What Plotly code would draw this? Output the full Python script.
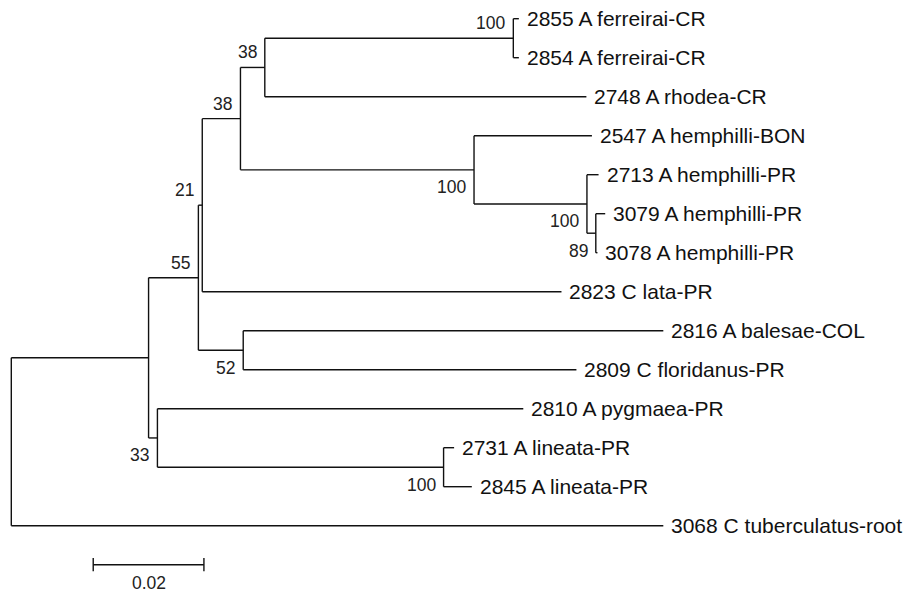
import plotly.graph_objects as go

# ---- data: tree topology, branch lengths (substitutions/site), bootstrap ----
LEAVES = [
    "2855 A ferreirai-CR", "2854 A ferreirai-CR", "2748 A rhodea-CR",
    "2547 A hemphilli-BON", "2713 A hemphilli-PR", "3079 A hemphilli-PR",
    "3078 A hemphilli-PR", "2823 C lata-PR", "2816 A balesae-COL",
    "2809 C floridanus-PR", "2810 A pygmaea-PR", "2731 A lineata-PR",
    "2845 A lineata-PR", "3068 C tuberculatus-root",
]
# internal nodes
NODES = ["R", "N1", "N55", "N21", "N38a", "N38b", "Nfer", "Nhem", "NhemPR", "N89", "N52", "N33", "Nlin"]
BOOTSTRAP = [None, None, 55, 21, 38, 38, 100, 100, 100, 89, 52, 33, 100]
BOOT_POS = [None, None, "above", "above", "above", "above", "above", "below", "below", "below", "below", "below", "below"]

# edges: (parent, child, branch length)
EDGE_PARENT = ["R", "R", "N1", "N1", "N55", "N55", "N21", "N21", "N38a", "N38a",
               "N38b", "N38b", "Nfer", "Nfer", "Nhem", "Nhem", "NhemPR", "NhemPR",
               "N89", "N89", "N52", "N52", "N33", "N33", "Nlin", "Nlin"]
EDGE_CHILD = ["N1", "3068 C tuberculatus-root", "N55", "N33", "N21", "N52", "N38a",
              "2823 C lata-PR", "N38b", "Nhem", "Nfer", "2748 A rhodea-CR",
              "2855 A ferreirai-CR", "2854 A ferreirai-CR", "2547 A hemphilli-BON",
              "NhemPR", "2713 A hemphilli-PR", "N89", "3079 A hemphilli-PR",
              "3078 A hemphilli-PR", "2816 A balesae-COL", "2809 C floridanus-PR",
              "2810 A pygmaea-PR", "Nlin", "2731 A lineata-PR", "2845 A lineata-PR"]
EDGE_LEN = [0.0248, 0.1178, 0.0090, 0.0016, 0.0007, 0.0081, 0.0069, 0.0649,
            0.0044, 0.0422, 0.0449, 0.0581, 0.0010, 0.0010, 0.0213, 0.0204,
            0.0021, 0.0016, 0.0017, 0.0003, 0.0759, 0.0602, 0.0661, 0.0517,
            0.0019, 0.0051]
SCALE_LEN = 0.02
SCALE_LABEL = "0.02"

# ---- layout computation ----
children = {}
for p, c, l in zip(EDGE_PARENT, EDGE_CHILD, EDGE_LEN):
    children.setdefault(p, []).append((c, l))

X, Y = {}, {}
X["R"] = 0.0
def place_x(n):
    for c, l in children.get(n, []):
        X[c] = X[n] + l
        place_x(c)
place_x("R")
for i, name in enumerate(LEAVES):
    Y[name] = i
def place_y(n):
    if n in Y:
        return Y[n]
    ys = [place_y(c) for c, _ in children[n]]
    Y[n] = (min(ys) + max(ys)) / 2
    return Y[n]
place_y("R")

xs, ys = [], []
for n in NODES:
    cy = [Y[c] for c, _ in children[n]]
    xs += [X[n], X[n], None]
    ys += [min(cy), max(cy), None]
for p, c in zip(EDGE_PARENT, EDGE_CHILD):
    xs += [X[p], X[c], None]
    ys += [Y[c], Y[c], None]

LINE = dict(color="#111111", width=1.4)
fig = go.Figure()
fig.add_trace(go.Scatter(x=xs, y=ys, mode="lines", line=LINE, hoverinfo="skip", showlegend=False))

# scale bar
sb_x0 = 0.0148
sb_y = 14.0
fig.add_trace(go.Scatter(x=[sb_x0, sb_x0 + SCALE_LEN, None, sb_x0, sb_x0, None, sb_x0 + SCALE_LEN, sb_x0 + SCALE_LEN],
                         y=[sb_y, sb_y, None, sb_y - 0.17, sb_y + 0.17, None, sb_y - 0.17, sb_y + 0.17],
                         mode="lines", line=LINE, hoverinfo="skip", showlegend=False))

ann = []
LEAF_FONT = dict(family="Liberation Sans, Arial, sans-serif", size=21, color="#111111")
BOOT_FONT = dict(family="Liberation Sans, Arial, sans-serif", size=17.5, color="#222222")
for name in LEAVES:
    ann.append(dict(x=X[name], y=Y[name], text=name, xanchor="left", yanchor="middle",
                    xshift=6, yshift=0, showarrow=False, font=LEAF_FONT))
for n, b, pos in zip(NODES, BOOTSTRAP, BOOT_POS):
    if b is None:
        continue
    ann.append(dict(x=X[n], y=Y[n], text=str(b), xanchor="right", yanchor="middle",
                    xshift=-6, yshift=(15 if pos == "above" else -17.5),
                    showarrow=False, font=BOOT_FONT))
ann.append(dict(x=sb_x0 + SCALE_LEN / 2, y=sb_y, text=SCALE_LABEL, xanchor="center", yanchor="middle",
                yshift=-18.5, showarrow=False, font=dict(family="Liberation Sans, Arial, sans-serif", size=17.5, color="#222222")))

PX_PER_UNIT = 5535.0
x_lo = -11.3 / PX_PER_UNIT
x_hi = (903 - 11.3) / PX_PER_UNIT
y_top = -18.7 / 39.0
y_bot = (593 - 18.7) / 39.0

fig.update_layout(
    width=903, height=593,
    margin=dict(l=0, r=0, t=0, b=0),
    paper_bgcolor="white", plot_bgcolor="white",
    xaxis=dict(range=[x_lo, x_hi], visible=False, fixedrange=True),
    yaxis=dict(range=[y_bot, y_top], visible=False, fixedrange=True),
    annotations=ann,
    showlegend=False,
)
fig.write_html("out.html", config={"displayModeBar": False},
               post_script="document.body.style.margin='0';document.body.style.overflow='hidden';")
